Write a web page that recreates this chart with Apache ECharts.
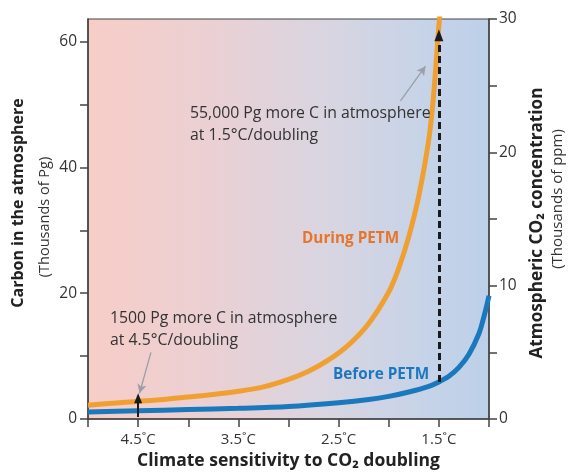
<!DOCTYPE html>
<html>
<head>
<meta charset="utf-8">
<script src="https://cdn.jsdelivr.net/npm/echarts@6/dist/echarts.min.js"></script>
<style>
html,body{margin:0;padding:0;background:#fff;}
#chart{width:569px;height:473px;}
</style>
</head>
<body>
<div id="chart"></div>
<script>
// Climate sensitivity (°C per CO2 doubling)
var duringX = [5.0, 4.75, 4.5, 4.25, 4.0, 3.75, 3.5, 3.25, 3.0, 2.8, 2.6, 2.4, 2.2, 2.0, 1.9, 1.8, 1.7, 1.6, 1.55, 1.5, 1.47];
var duringY = [2.2, 2.5, 2.8, 3.1, 3.5, 3.9, 4.4, 5.1, 6.3, 7.6, 9.4, 11.8, 15.2, 20.2, 24.0, 29.0, 35.5, 44.5, 52.0, 62.5, 68.0];
var beforeX = [5.0, 4.5, 4.0, 3.5, 3.0, 2.5, 2.2, 2.0, 1.8, 1.6, 1.5, 1.4, 1.3, 1.2, 1.1, 1.05, 1.0];
var beforeY = [1.1, 1.3, 1.5, 1.7, 2.0, 2.6, 3.1, 3.6, 4.3, 5.2, 5.9, 6.8, 8.2, 10.3, 13.6, 16.3, 19.6];
var xTickLabels = [4.5, 3.5, 2.5, 1.5];
var leftTickLabels = [0, 20, 40, 60];
var rightTickLabels = [0, 10, 20, 30];
// annotation arrows [x1, y1, x2, y2]
var bigArrow = [1.5, 5.9, 1.5, 61];
var smallArrow = [4.5, 0.3, 4.5, 3.3];
var note1Arrow = [1.883, 50.6, 1.633, 56.1];
var note2Arrow = [4.372, 10.6, 4.486, 4.1];

function pairs(xs, ys){ return xs.map(function(x,i){ return [x, ys[i]]; }); }
function seg(a){ return [{coord:[a[0],a[1]]},{coord:[a[2],a[3]]}]; }

var FONT = 'Open Sans';
var chart = echarts.init(document.getElementById('chart'));
chart.setOption({
  animation: false,
  grid: {
    left: 88, right: 80, top: 19, bottom: 54,
    outerBoundsMode: 'none',
    containLabel: false,
    show: true,
    borderColor: '#444', borderWidth: 1.2,
    backgroundColor: {
      type: 'linear', x: 0, y: 0, x2: 1, y2: 0,
      colorStops: [
        {offset: 0, color: '#f7cdc7'},
        {offset: 0.3, color: '#ebd0d3'},
        {offset: 0.6, color: '#d8d5e1'},
        {offset: 0.85, color: '#c5d3e8'},
        {offset: 1, color: '#bdd0e9'}
      ]
    }
  },
  xAxis: {
    type: 'value', min: 1, max: 5, interval: 0.5, inverse: true,
    name: 'Climate sensitivity to CO\u2082 doubling',
    nameLocation: 'middle', nameGap: 33,
    nameTextStyle: {fontFamily: FONT, fontWeight: 'bold', fontSize: 17.5, color: '#222'},
    axisLine: {lineStyle: {color: '#444', width: 1.5}},
    axisTick: {length: 8, lineStyle: {color: '#444', width: 1.5}},
    splitLine: {show: false},
    axisLabel: {
      margin: 13, fontFamily: FONT, fontSize: 15, color: '#333',
      formatter: function(v){ return xTickLabels.indexOf(v) >= 0 ? v.toFixed(1) + '\u02daC' : ''; }
    }
  },
  yAxis: [{
    type: 'value', min: 0, max: 63.6, position: 'left',
    axisLine: {show: true, lineStyle: {color: '#444', width: 1.5}},
    axisTick: {show: true, length: 8, customValues: [0,10,20,30,40,50,60], lineStyle: {color: '#444', width: 1.5}},
    splitLine: {show: false},
    axisLabel: {margin: 11, fontFamily: FONT, fontSize: 15.5, color: '#333', customValues: leftTickLabels}
  }, {
    type: 'value', min: 0, max: 30, interval: 5, position: 'right',
    axisLine: {show: true, lineStyle: {color: '#444', width: 1.5}},
    axisTick: {show: true, length: 8, lineStyle: {color: '#444', width: 1.5}},
    splitLine: {show: false},
    axisLabel: {margin: 10, fontFamily: FONT, fontSize: 15.5, color: '#333',
      formatter: function(v){ return rightTickLabels.indexOf(v) >= 0 ? String(v) : ''; }}
  }],
  series: [{
    name: 'During PETM', type: 'line', smooth: 0.3, symbol: 'none', clip: true,
    data: pairs(duringX, duringY),
    lineStyle: {color: '#f0a030', width: 5},
    z: 3
  }, {
    name: 'Before PETM', type: 'line', smooth: 0.3, symbol: 'none', clip: true,
    data: pairs(beforeX, beforeY),
    lineStyle: {color: '#1a78bd', width: 5},
    z: 3,
    markLine: {
      silent: true, animation: false, label: {show: false},
      data: [seg(bigArrow)],
      symbol: ['none', 'triangle'], symbolSize: [9, 12],
      lineStyle: {color: '#1a1a1a', type: [7, 4], width: 3}
    }
  }, {
    type: 'line', data: [], yAxisIndex: 0,
    markLine: {
      silent: true, animation: false, label: {show: false},
      symbol: ['none', 'triangle'], symbolSize: [8, 10],
      lineStyle: {color: '#1a1a1a', type: 'solid', width: 2},
      data: [seg(smallArrow)]
    },
    z: 4
  }, {
    type: 'line', data: [], yAxisIndex: 0,
    markLine: {
      silent: true, animation: false, label: {show: false},
      symbol: ['none', 'arrow'], symbolSize: [7, 9],
      lineStyle: {color: '#9a9fa8', type: 'solid', width: 1.3},
      data: [seg(note1Arrow), seg(note2Arrow)]
    },
    z: 4
  }],
  graphic: [
    {type: 'text', left: 190, top: 102, z: 10, style: {text: '55,000 Pg more C in atmosphere\nat 1.5\u00b0C/doubling', font: '15.8px "Open Sans"', fill: '#333', lineHeight: 22}},
    {type: 'text', left: 110, top: 307, z: 10, style: {text: '1500 Pg more C in atmosphere\nat 4.5\u00b0C/doubling', font: '15.8px "Open Sans"', fill: '#333', lineHeight: 22}},
    {type: 'text', left: 302, top: 231, z: 10, style: {text: 'During PETM', font: 'bold 15.3px "Open Sans"', fill: '#e8742c'}},
    {type: 'text', left: 333, top: 367, z: 10, style: {text: 'Before PETM', font: 'bold 15.3px "Open Sans"', fill: '#1b78c0'}},
    {type: 'text', x: 18, y: 203, rotation: Math.PI/2, z: 10, style: {text: 'Carbon in the atmosphere', font: 'bold 16px "Open Sans"', fill: '#222', align: 'center', verticalAlign: 'middle'}},
    {type: 'text', x: 45, y: 217, rotation: Math.PI/2, z: 10, style: {text: '(Thousands of Pg)', font: '14.5px "Open Sans"', fill: '#333', align: 'center', verticalAlign: 'middle'}},
    {type: 'text', x: 537, y: 223, rotation: Math.PI/2, z: 10, style: {text: 'Atmospheric CO\u2082 concentration', font: 'bold 17.2px "Open Sans"', fill: '#222', align: 'center', verticalAlign: 'middle'}},
    {type: 'text', x: 558, y: 199, rotation: Math.PI/2, z: 10, style: {text: '(Thousands of ppm)', font: '15px "Open Sans"', fill: '#333', align: 'center', verticalAlign: 'middle'}}
  ]
});
</script>
</body>
</html>
